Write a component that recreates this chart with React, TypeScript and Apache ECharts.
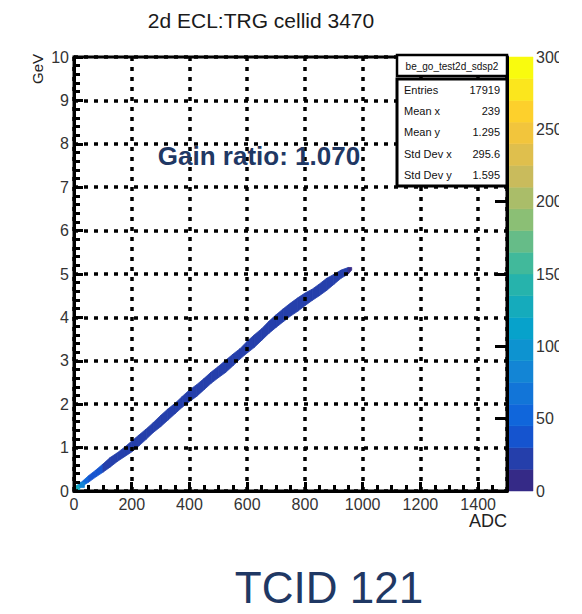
import React, { useEffect, useRef } from 'react';
import * as echarts from 'echarts';

// ---- data ----
const bandAdc = [0, 25, 50, 75, 100, 125, 150, 175, 200, 225, 250, 275, 300, 325, 350, 375, 400, 425, 450, 475, 500, 525, 550, 575, 600, 625, 650, 675, 700, 725, 750, 775, 800, 825, 850, 875, 900, 925, 950, 962];
const bandGevLow = [0.01, 0.1, 0.2, 0.32, 0.43, 0.55, 0.68, 0.79, 0.9, 1.04, 1.19, 1.35, 1.48, 1.63, 1.78, 1.93, 2.06, 2.18, 2.33, 2.48, 2.61, 2.73, 2.88, 3.04, 3.18, 3.31, 3.47, 3.63, 3.77, 3.9, 4.03, 4.14, 4.27, 4.39, 4.5, 4.62, 4.76, 4.9, 5.0, 5.09];
const bandGevHigh = [0.08, 0.2, 0.35, 0.48, 0.62, 0.77, 0.88, 1.01, 1.15, 1.29, 1.43, 1.58, 1.74, 1.89, 2.02, 2.18, 2.33, 2.45, 2.59, 2.74, 2.87, 3.01, 3.15, 3.28, 3.45, 3.6, 3.74, 3.91, 4.06, 4.2, 4.33, 4.45, 4.56, 4.65, 4.77, 4.9, 4.99, 5.09, 5.15, 5.15];
// counts per band segment (between consecutive bandAdc points)
const bandCounts = [95, 50, 38, 32, 26, 24, 22, 22, 20, 20, 20, 18, 20, 20, 18, 20, 20, 18, 20, 20, 18, 20, 20, 18, 20, 20, 18, 20, 20, 18, 20, 20, 18, 20, 20, 18, 16, 16, 12];

// hot cells near the origin
const hotAdcStart = [0, 8, 20];
const hotAdcEnd = [10, 20, 36];
const hotGevLow = [0.0, 0.02, 0.08];
const hotGevHigh = [0.07, 0.12, 0.2];
const hotCounts = [200, 130, 80];

const colorLevels = [0, 15, 30, 45, 60, 75, 90, 105, 120, 135, 150, 165, 180, 195, 210, 225, 240, 255, 270, 285, 300];

const titleText = '2d ECL:TRG cellid 3470';
const statsName = 'be_go_test2d_sdsp2';
const statsLabels = ['Entries', 'Mean x', 'Mean y', 'Std Dev x', 'Std Dev y'];
const statsValues = ['17919', '239', '1.295', '295.6', '1.595'];
const gainText = 'Gain ratio: 1.070';
const tcidText = 'TCID 121';

// ---- styling helpers ----
const FONT = 'Liberation Sans, Arial, Helvetica, sans-serif';
const birdStops = [
  [53, 42, 135], [15, 92, 221], [20, 129, 214], [6, 164, 202], [46, 183, 164],
  [135, 191, 119], [209, 187, 89], [254, 200, 50], [249, 251, 14],
];
function bird(t: number): string {
  const s = Math.max(0, Math.min(1, t)) * 8;
  const i = Math.min(7, Math.floor(s));
  const f = s - i;
  const a = birdStops[i], b = birdStops[i + 1];
  const c = a.map((v, k) => Math.round(v + (b[k] - v) * f));
  return `rgb(${c[0]},${c[1]},${c[2]})`;
}

export default function App() {
  const ref = useRef<HTMLDivElement>(null);
  useEffect(() => {
    if (!ref.current) return;
    const chart = echarts.init(ref.current, null, { renderer: 'svg' });
    const nLev = colorLevels.length - 1;
    const pieces = colorLevels.slice(0, nLev).map((lv, i) => ({
      gte: lv,
      lt: i === nLev - 1 ? colorLevels[i + 1] + 1 : colorLevels[i + 1],
      color: bird(i / (nLev - 1)),
    }));

    const bandData: number[][] = [];
    for (let i = 0; i < bandAdc.length - 1; i++) {
      bandData.push([bandAdc[i], bandGevLow[i], bandGevHigh[i], bandAdc[i + 1], bandGevLow[i + 1], bandGevHigh[i + 1], bandCounts[i]]);
    }
    for (let i = 0; i < hotCounts.length; i++) {
      bandData.push([hotAdcStart[i], hotGevLow[i], hotGevHigh[i], hotAdcEnd[i], hotGevLow[i], hotGevHigh[i], hotCounts[i]]);
    }
    const barData = colorLevels.slice(0, nLev).map((lv, i) => [0, lv, 1, colorLevels[i + 1], (lv + colorLevels[i + 1]) / 2]);

    const graphics: any[] = [
      { type: 'text', x: 261, y: 20, z: 10, style: { text: titleText, fontSize: 21, fontFamily: FONT, fill: '#1a1a1a', align: 'center', verticalAlign: 'middle' } },
      { type: 'text', x: 37, y: 69, z: 10, rotation: Math.PI / 2, style: { text: 'GeV', fontSize: 15, fontFamily: FONT, fill: '#222', align: 'center', verticalAlign: 'middle' } },
      { type: 'text', x: 507, y: 521, z: 10, style: { text: 'ADC', fontSize: 18, fontFamily: FONT, fill: '#222', align: 'right', verticalAlign: 'middle' } },
      { type: 'text', x: 259, y: 156, z: 10, style: { text: gainText, fontSize: 26, fontWeight: 'bold', fontFamily: FONT, fill: '#1F3864', align: 'center', verticalAlign: 'middle' } },
      { type: 'text', x: 329, y: 587, z: 10, style: { text: tcidText, fontSize: 44, fontFamily: FONT, fill: '#1F3864', align: 'center', verticalAlign: 'middle' } },
      { type: 'rect', z: 10, shape: { x: 397, y: 55, width: 110, height: 21 }, style: { fill: '#fff', stroke: '#000', lineWidth: 2.5 } },
      { type: 'text', x: 452, y: 66.5, z: 11, style: { text: statsName, fontSize: 10, fontFamily: FONT, fill: '#111', align: 'center', verticalAlign: 'middle' } },
      { type: 'rect', z: 10, shape: { x: 397, y: 79, width: 110, height: 107 }, style: { fill: '#fff', stroke: '#000', lineWidth: 3 } },
    ];
    const rowY = [90, 111, 132, 154, 175];
    statsLabels.forEach((lab, i) => {
      graphics.push({ type: 'text', x: 404, y: rowY[i], z: 11, style: { text: lab, fontSize: 11, fontFamily: FONT, fill: '#111', align: 'left', verticalAlign: 'middle' } });
      graphics.push({ type: 'text', x: 500, y: rowY[i], z: 11, style: { text: statsValues[i], fontSize: 11, fontFamily: FONT, fill: '#111', align: 'right', verticalAlign: 'middle' } });
    });
    graphics.push({ type: 'rect', z: 20, shape: { x: 559, y: 40, width: 30, height: 470 }, style: { fill: '#fff' } });

    const option: any = {
      animation: false,
      backgroundColor: '#fff',
      textStyle: { fontFamily: FONT },
      grid: [
        { left: 74, top: 57, width: 433, height: 434, show: true, borderColor: '#000', borderWidth: 3, backgroundColor: 'transparent' },
        { left: 507, top: 57, width: 26, height: 434 },
      ],
      xAxis: [
        {
          type: 'value', gridIndex: 0, min: 0, max: 1500, interval: 200, z: 3,
          axisLine: { show: true, lineStyle: { color: '#000', width: 3 } },
          axisTick: { show: true, inside: true, length: 9, lineStyle: { color: '#000', width: 3 } },
          minorTick: { show: true, splitNumber: 4, length: 6, lineStyle: { color: '#000', width: 3 } },
          axisLabel: { margin: 5, fontSize: 16, color: '#333', fontFamily: FONT, showMaxLabel: false, formatter: (v: number) => String(v) },
          splitLine: { show: true, lineStyle: { color: '#000', width: 3.5, type: [4, 6] } },
        },
        { type: 'value', gridIndex: 1, min: 0, max: 1, show: false },
      ],
      yAxis: [
        {
          type: 'value', gridIndex: 0, min: 0, max: 10, interval: 1, z: 3,
          axisLine: { show: true, lineStyle: { color: '#000', width: 3 } },
          axisTick: { show: true, inside: true, length: 9, lineStyle: { color: '#000', width: 3 } },
          minorTick: { show: true, splitNumber: 5, length: 6, lineStyle: { color: '#000', width: 3 } },
          axisLabel: { margin: 5, fontSize: 16, color: '#333', fontFamily: FONT, formatter: (v: number) => String(v) },
          splitLine: { show: true, lineStyle: { color: '#000', width: 3.5, type: [4, 6] } },
        },
        {
          type: 'value', gridIndex: 1, min: 0, max: 300, interval: 50, position: 'right', z: 3,
          axisLine: { show: true, lineStyle: { color: '#000', width: 3 } },
          axisTick: { show: true, inside: true, length: 12, lineStyle: { color: '#000', width: 3 } },
          axisLabel: { margin: 3, fontSize: 16, color: '#333', fontFamily: FONT },
          splitLine: { show: false },
        },
      ],
      visualMap: [
        { type: 'piecewise', show: false, seriesIndex: 0, dimension: 6, pieces },
        { type: 'piecewise', show: false, seriesIndex: 1, dimension: 4, pieces },
      ],
      series: [
        {
          type: 'custom', xAxisIndex: 0, yAxisIndex: 0, clip: true, z: 2,
          encode: { x: [0, 3], y: [1, 2, 4, 5] },
          data: bandData,
          renderItem: (params: any, api: any) => {
            const p1 = api.coord([api.value(0), api.value(1)]);
            const p2 = api.coord([api.value(0), api.value(2)]);
            const p3 = api.coord([api.value(3), api.value(5)]);
            const p4 = api.coord([api.value(3), api.value(4)]);
            const c = api.visual('color');
            return { type: 'polygon', shape: { points: [p1, p2, p3, p4] }, style: { fill: c, stroke: c, lineWidth: 0.8 } };
          },
        },
        {
          type: 'custom', xAxisIndex: 1, yAxisIndex: 1, z: 2,
          encode: { x: [0, 2], y: [1, 3] },
          data: barData,
          renderItem: (params: any, api: any) => {
            const a = api.coord([api.value(0), api.value(3)]);
            const b = api.coord([api.value(2), api.value(1)]);
            const c = api.visual('color');
            return { type: 'rect', shape: { x: a[0], y: a[1], width: b[0] - a[0], height: b[1] - a[1] }, style: { fill: c, stroke: c, lineWidth: 0.5 } };
          },
        },
      ],
      graphic: { elements: graphics },
    };
    chart.setOption(option);
    return () => chart.dispose();
  }, []);
  return <div ref={ref} style={{ position: 'fixed', left: 0, top: 0, width: 582, height: 614, background: '#fff' }} />;
}
